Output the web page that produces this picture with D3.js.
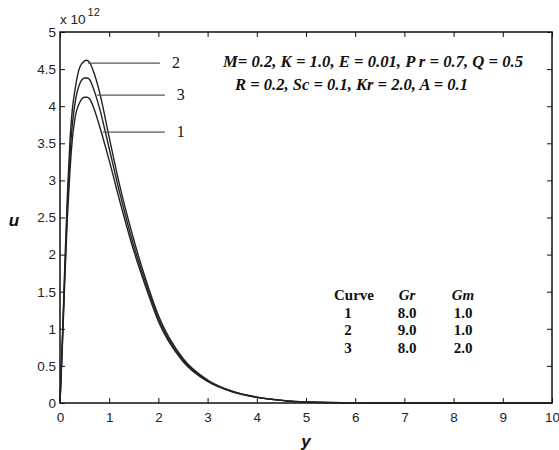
<!DOCTYPE html>
<html><head><meta charset="utf-8">
<script src="https://cdn.jsdelivr.net/npm/d3@7"></script>
<style>body{margin:0;background:#fff}</style>
</head><body>
<svg id="c" width="559" height="450"></svg>
<script>
const yPos = [0,0.05,0.1,0.15,0.2,0.25,0.3,0.4,0.5,0.55,0.6,0.7,0.8,1.0,1.2,1.5,1.75,2.0,2.5,3.0,3.5,4.0,4.5,5.0,6,7,8,9,10];
const curve1 = [0,0.8,1.7,2.5,3.1,3.55,3.82,4.05,4.12,4.12,4.1,3.95,3.74,3.27,2.76,2.05,1.55,1.1,0.56,0.29,0.15,0.075,0.035,0.012,0.002,0,0,0,0];
const curve2 = [0,0.9,1.9,2.8,3.5,3.95,4.2,4.52,4.61,4.62,4.59,4.43,4.2,3.58,2.97,2.2,1.65,1.18,0.6,0.31,0.16,0.08,0.038,0.014,0.002,0,0,0,0];
const curve3 = [0,0.85,1.8,2.65,3.3,3.75,4.02,4.3,4.38,4.38,4.36,4.2,3.98,3.43,2.87,2.12,1.6,1.14,0.58,0.3,0.155,0.078,0.036,0.013,0.002,0,0,0,0];
const xTicks = [0,1,2,3,4,5,6,7,8,9,10];
const yTicks = [0,0.5,1,1.5,2,2.5,3,3.5,4,4.5,5];
const curveLabels = ["1","2","3"];
// leader lines: [x on curve, value, x end]
const leader1 = [0.87, 3.65, 2.13];
const leader2 = [0.57, 4.58, 2.03];
const leader3 = [0.75, 4.15, 2.13];
const tableHeader = ["Curve","Gr","Gm"];
const tableGr = ["8.0","9.0","8.0"];
const tableGm = ["1.0","1.0","2.0"];
const paramLine1 = "M= 0.2, K = 1.0, E = 0.01, P r = 0.7, Q = 0.5";
const paramLine2 = "R = 0.2, Sc = 0.1, Kr = 2.0, A = 0.1";

const svg = d3.select("#c");
const L=60,R=552,T=32,B=403;
const x = d3.scaleLinear().domain([0,10]).range([L,R]);
const y = d3.scaleLinear().domain([0,5]).range([B,T]);
const sans = "'Liberation Sans', Arial, sans-serif";
const serif = "'Liberation Serif', 'Times New Roman', serif";

const g = svg.append("g");
function styleAxis(sel){
  sel.selectAll("path").remove();
  sel.selectAll("line").attr("stroke","#111").attr("stroke-width",1);
  sel.selectAll("text").attr("font-family",sans).attr("font-size",13.5).attr("fill","#222");
}
g.append("g").attr("transform",`translate(0,${B})`)
 .call(d3.axisBottom(x).tickValues(xTicks).tickSize(-5).tickPadding(9).tickFormat(d3.format("d"))).call(styleAxis);
g.append("g").attr("transform",`translate(0,${T})`)
 .call(d3.axisTop(x).tickValues(xTicks).tickSize(-5).tickFormat("")).call(styleAxis);
g.append("g").attr("transform",`translate(${L},0)`)
 .call(d3.axisLeft(y).tickValues(yTicks).tickSize(-5).tickPadding(4).tickFormat(d=>String(d))).call(styleAxis);
g.append("g").attr("transform",`translate(${R},0)`)
 .call(d3.axisRight(y).tickValues(yTicks).tickSize(-5).tickFormat("")).call(styleAxis);

g.append("rect").attr("x",L).attr("y",T).attr("width",R-L).attr("height",B-T)
 .attr("fill","none").attr("stroke","#111").attr("stroke-width",1.5);

const line = d3.line().x((d,i)=>x(yPos[i])).y(d=>y(d)).curve(d3.curveMonotoneX);
[curve1,curve2,curve3].forEach(c=>{
  g.append("path").attr("d",line(c)).attr("fill","none").attr("stroke","#222").attr("stroke-width",1.4);
});

// leader lines and labels
[[leader1,curveLabels[0]],[leader2,curveLabels[1]],[leader3,curveLabels[2]]].forEach(([l,t])=>{
  g.append("line").attr("x1",x(l[0])).attr("x2",x(l[2])).attr("y1",y(l[1])).attr("y2",y(l[1]))
   .attr("stroke","#555").attr("stroke-width",1.3);
  g.append("text").attr("x",x(l[2])+12).attr("y",y(l[1])+5).text(t)
   .attr("font-family",serif).attr("font-size",16).attr("fill","#111");
});

// exponent
const ex = g.append("text").attr("x",L).attr("y",24).attr("font-family",sans).attr("font-size",13.5).attr("fill","#222");
ex.append("tspan").text("x 10");
ex.append("tspan").attr("dx",2).attr("dy",-8).attr("font-size",11).text("12");

// axis labels
g.append("text").attr("x",14).attr("y",226).attr("text-anchor","middle").text("u")
 .attr("font-family",sans).attr("font-size",17).attr("font-weight","bold").attr("font-style","italic").attr("fill","#111");
g.append("text").attr("x",x(5)).attr("y",447).attr("text-anchor","middle").text("y")
 .attr("font-family",sans).attr("font-size",17).attr("font-weight","bold").attr("font-style","italic").attr("fill","#111");

// params
g.append("text").attr("x",223).attr("y",67).text(paramLine1)
 .attr("textLength",300).attr("lengthAdjust","spacingAndGlyphs")
 .attr("font-family",serif).attr("font-size",16).attr("font-weight","bold").attr("font-style","italic").attr("fill","#111");
g.append("text").attr("x",235).attr("y",90).text(paramLine2)
 .attr("textLength",233).attr("lengthAdjust","spacingAndGlyphs")
 .attr("font-family",serif).attr("font-size",16).attr("font-weight","bold").attr("font-style","italic").attr("fill","#111");

// table
const colX = [354,407,463];
tableHeader.forEach((h,i)=>{
  g.append("text").attr("x",colX[i]).attr("y",300).attr("text-anchor","middle").text(h)
   .attr("font-family",serif).attr("font-size",15).attr("font-weight","bold")
   .attr("font-style",i>0?"italic":"normal").attr("fill","#111");
});
const rowY=[318,335,353];
curveLabels.forEach((c,i)=>{
  [c,tableGr[i],tableGm[i]].forEach((v,j)=>{
    g.append("text").attr("x",j===0?348:colX[j]).attr("y",rowY[i]).attr("text-anchor","middle").text(v)
     .attr("font-family",serif).attr("font-size",15).attr("font-weight","bold").attr("fill","#111");
  });
});
</script>
</body></html>
